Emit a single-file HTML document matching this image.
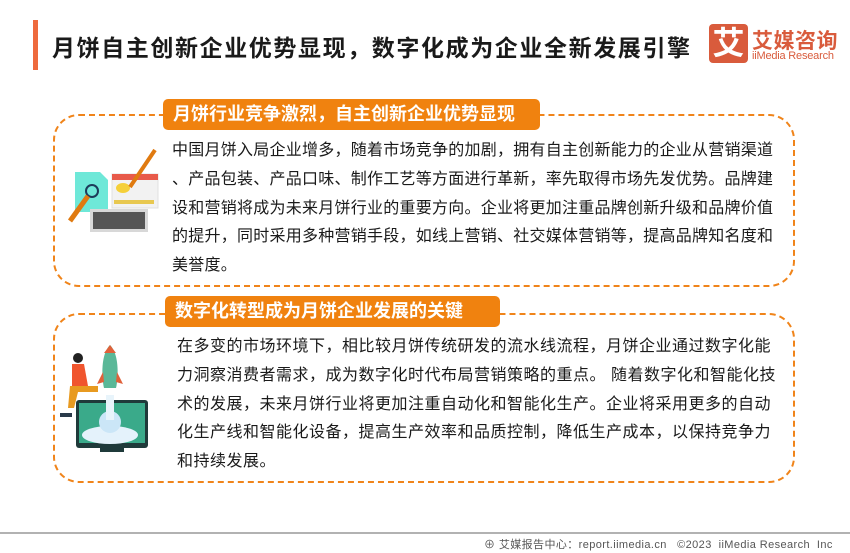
<!DOCTYPE html>
<html><head><meta charset="utf-8"><style>
*{margin:0;padding:0;box-sizing:border-box}
body{width:850px;height:553px;background:#fff;position:relative;overflow:hidden;font-family:"Liberation Sans","Noto Sans CJK SC",sans-serif}
.a{position:absolute}
.bar{left:33px;top:20px;width:5px;height:50px;background:#ee6a3d}
.title{left:52px;top:29px;font-size:23px;font-weight:bold;color:#1a1a1a;white-space:nowrap;letter-spacing:1.6px}
.box{border:2px dashed #f0841a;border-radius:26px}
.lab{background:#f0820f;color:#fff;font-size:18px;font-weight:bold;border-radius:5px;padding-left:10px;line-height:31px;white-space:nowrap}
.txt{font-size:16px;color:#1a1a1a;line-height:28.8px;white-space:nowrap}
</style></head><body>
<div class="a bar"></div>
<div class="a title">月饼自主创新企业优势显现，数字化成为企业全新发展引擎</div>
<div class="a" style="left:709px;top:24px;width:39px;height:39px;background:#d95b3c;border-radius:4px;color:#fff;font-size:32px;font-weight:bold;line-height:39px;text-align:center">艾</div>
<div class="a" style="left:752px;top:25px;font-size:21px;font-weight:bold;color:#d95b3c;letter-spacing:0.5px">艾媒咨询</div>
<div class="a" style="left:752px;top:50px;font-size:11px;color:#d95b3c;letter-spacing:-0.2px">iiMedia Research</div>

<div class="a box" style="left:53px;top:114px;width:742px;height:173px"></div>
<div class="a lab" style="left:163px;top:99px;width:377px">月饼行业竞争激烈，自主创新企业优势显现</div>
<div class="a txt" style="left:172px;top:137px;letter-spacing:0.25px">中国月饼入局企业增多，随着市场竞争的加剧，拥有自主创新能力的企业从营销渠道<br>、产品包装、产品口味、制作工艺等方面进行革新，率先取得市场先发优势。品牌建<br>设和营销将成为未来月饼行业的重要方向。企业将更加注重品牌创新升级和品牌价值<br>的提升，同时采用多种营销手段，如线上营销、社交媒体营销等，提高品牌知名度和<br>美誉度。</div>

<div class="a box" style="left:53px;top:313px;width:742px;height:170px"></div>
<div class="a lab" style="left:165px;top:296px;width:335px">数字化转型成为月饼企业发展的关键</div>
<div class="a txt" style="left:177px;top:333px;letter-spacing:0.5px">在多变的市场环境下，相比较月饼传统研发的流水线流程，月饼企业通过数字化能<br>力洞察消费者需求，成为数字化时代布局营销策略的重点。 随着数字化和智能化技<br>术的发展，未来月饼行业将更加注重自动化和智能化生产。企业将采用更多的自动<br>化生产线和智能化设备，提高生产效率和品质控制，降低生产成本，以保持竞争力<br>和持续发展。</div>

<svg class="a" style="left:0;top:0" width="850" height="553">
<polygon points="75,172 100,172 108,180 108,212 75,212" fill="#6ee8d8"/>
<rect x="112" y="174" width="46" height="34" fill="#f2f2f2" stroke="#e0e0e0"/>
<rect x="112" y="174" width="46" height="6" fill="#e85a4a"/>
<rect x="114" y="200" width="40" height="4" fill="#e8c850"/>
<ellipse cx="123" cy="188" rx="7" ry="5" fill="#f5d03a"/>
<line x1="130" y1="187" x2="155" y2="150" stroke="#e07a10" stroke-width="4"/>
<circle cx="92" cy="191" r="6" fill="none" stroke="#1d3b5a" stroke-width="2"/>
<line x1="88" y1="196" x2="70" y2="221" stroke="#e07a10" stroke-width="5"/>
<rect x="90" y="209" width="58" height="23" fill="#d8d8d8"/>
<rect x="93" y="212" width="52" height="17" fill="#555"/>
<rect x="76" y="400" width="72" height="48" rx="3" fill="#1f3a3a"/>
<rect x="79" y="403" width="66" height="40" fill="#3aaa8a"/>
<rect x="100" y="448" width="24" height="4" fill="#1f3a3a"/>
<ellipse cx="110" cy="435" rx="28" ry="9" fill="#e4f2fb"/>
<circle cx="110" cy="422" r="11" fill="#cbe6f7"/>
<rect x="106" y="395" width="8" height="25" fill="#e8f4fb"/>
<path d="M110,345 C100,355 102,380 104,388 L116,388 C118,380 120,355 110,345Z" fill="#5ab898"/>
<path d="M110,345 l-6,8 h12z" fill="#e0613a"/>
<path d="M103,372 l-6,12 l7,-2z M117,372 l6,12 l-7,-2z" fill="#e0613a"/>
<circle cx="78" cy="358" r="5" fill="#222"/>
<path d="M72,364 h12 l4,22 h-16z" fill="#f0552e"/>
<path d="M70,386 h28 v6 h-20 l-4,16 h-6z" fill="#e89a20"/>
<rect x="60" y="413" width="12" height="4" fill="#2a3a4a"/>
<line x1="0" y1="533" x2="850" y2="533" stroke="#999" stroke-width="1.5"/>
</svg>
<div class="a" style="left:484px;top:536px;font-size:11px;color:#555;white-space:nowrap;letter-spacing:0.4px">⊕ 艾媒报告中心：report.iimedia.cn &nbsp; ©2023 &nbsp;iiMedia Research &nbsp;Inc</div>
</body></html>
